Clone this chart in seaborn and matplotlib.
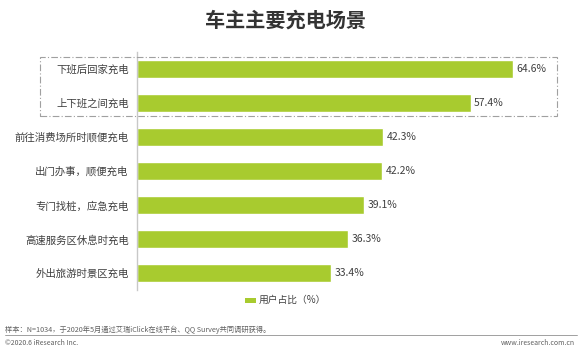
import matplotlib
matplotlib.use("Agg")
import matplotlib.pyplot as plt
import seaborn as sns
import pandas as pd
from matplotlib.patches import Rectangle
from matplotlib.lines import Line2D

categories = ["下班后回家充电", "上下班之间充电", "前往消费场所时顺便充电",
              "出门办事，顺便充电", "专门找桩，应急充电", "高速服务区休息时充电",
              "外出旅游时景区充电"]
values = [64.6, 57.4, 42.3, 42.2, 39.1, 36.3, 33.4]
series_name = "用户占比（%）"
title = "车主主要充电场景"
note = "样本：N=1034，于2020年5月通过艾瑞iClick在线平台、QQ Survey共同调研获得。"
footer_left = "©2020.6 iResearch Inc."
footer_right = "www.iresearch.com.cn"

sns.set_style("white")
plt.rcParams['font.family'] = ['Noto Sans CJK SC', 'DejaVu Sans']

W, H = 580, 355
fig = plt.figure(figsize=(W / 100, H / 100), dpi=100)
fig.patch.set_facecolor("white")

ax_left, ax_right, ax_top, ax_bottom = 137, 544, 52, 290
ax = fig.add_axes([ax_left / W, 1 - ax_bottom / H, (ax_right - ax_left) / W, (ax_bottom - ax_top) / H])

df = pd.DataFrame({"cat": categories, "val": values, "series": series_name})
bar_color = "#A8CB2F"
sns.barplot(data=df, x="val", y="cat", hue="series", palette=[bar_color],
            orient="h", width=0.53, saturation=1, ax=ax, legend=False)
ax.set_xlim(0, 70)
ax.set_ylim(len(categories) - 0.5, -0.5)
ax.set_xlabel("")
ax.set_ylabel("")
ax.set_xticks([])
for s in ["top", "right", "bottom"]:
    ax.spines[s].set_visible(False)
ax.spines["left"].set_color("#C8C8C8")
ax.spines["left"].set_linewidth(1.0)
ax.tick_params(axis="y", length=0, pad=6, labelsize=7.5, labelcolor="#404040")

for i, v in enumerate(values):
    ax.text(v + 0.6, i, f"{v}%", va="center", ha="left", fontsize=7.5, color="#404040")

# Title
fig.text(285 / W, 1 - 20 / H, title, ha="center", va="center", fontsize=14.5,
         fontweight="bold", color="#333333")

# Highlight dashed box
box = Rectangle((40 / W, 1 - 116 / H), (557 - 40) / W, (116 - 57) / H,
                transform=fig.transFigure, fill=False, edgecolor="#A0A0A0",
                linewidth=0.8, linestyle=(0, (6, 2, 1, 2)))
fig.add_artist(box)

# Legend
fig.add_artist(Rectangle((245 / W, 1 - 302.5 / H), 11 / W, 5 / H,
                         transform=fig.transFigure, facecolor=bar_color, edgecolor="none"))
fig.text(259 / W, 1 - 300 / H, series_name, ha="left", va="center", fontsize=7, color="#404040")

# Footer
fig.text(5 / W, 1 - 330 / H, note, ha="left", va="center", fontsize=5.2, color="#606060")
fig.add_artist(Line2D([5 / W, 577 / W], [1 - 335 / H, 1 - 335 / H],
                      transform=fig.transFigure, color="#909090", linewidth=0.6))
fig.text(5 / W, 1 - 343 / H, footer_left, ha="left", va="center", fontsize=5, color="#606060")
fig.text(575 / W, 1 - 343 / H, footer_right, ha="right", va="center", fontsize=5, color="#606060")

fig.savefig("out.png", dpi=100, facecolor="white")
